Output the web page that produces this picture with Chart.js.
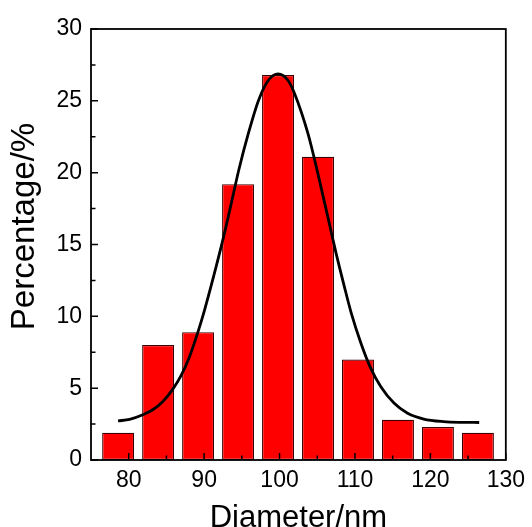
<!DOCTYPE html>
<html>
<head>
<meta charset="utf-8">
<script src="https://cdn.jsdelivr.net/npm/chart.js@4.4.1/dist/chart.umd.min.js"></script>
<style>
html,body{margin:0;padding:0;background:#fff;}
#wrap{width:532px;height:527px;}
</style>
</head>
<body>
<div id="wrap"><canvas id="c" width="532" height="527"></canvas></div>
<script>
// Histogram bins (bar centres, nm) and percentages
const diameters   = [78.6, 83.9, 89.2, 94.5, 99.8, 105.1, 110.4, 115.7, 121.0, 126.3];
const percentages = [1.9, 8.0, 8.9, 19.2, 26.8, 21.1, 7.0, 2.8, 2.3, 1.9];

// Fitted curve
const fitX = [78.59, 80.12, 81.87, 83.19, 84.50, 85.81, 86.92, 88.01, 89.10, 89.98, 91.29, 92.61, 93.70, 94.58, 95.89, 97.21, 98.52, 99.80, 101.15, 102.00, 103.78, 105.09, 106.41, 107.50, 108.60, 109.47, 110.78, 112.10, 113.41, 115.17, 116.92, 119.11, 121.74, 124.37, 126.47];
const fitY = [2.72, 2.83, 3.15, 3.50, 4.06, 4.90, 5.85, 7.12, 8.78, 10.30, 12.85, 15.60, 18.10, 20.15, 22.78, 25.03, 26.43, 26.88, 26.40, 25.50, 22.70, 19.92, 16.90, 14.38, 12.05, 10.30, 8.15, 6.38, 5.12, 3.96, 3.27, 2.85, 2.67, 2.62, 2.61];

// Tick labels / tick positions
const xTickLabels = [80, 90, 100, 110, 120, 130];
const xMinorTicks = [85, 95, 105, 115, 125];
const yTickLabels = [0, 5, 10, 15, 20, 25, 30];
const yMinorTicks = [2.5, 7.5, 12.5, 17.5, 22.5, 27.5];

const FONT = "'Liberation Sans', Arial, Helvetica, sans-serif";

const frameTicks = {
  id: 'frameTicks',
  afterDatasetsDraw(chart) {
    const {ctx, chartArea: a, scales: {x, y}} = chart;
    ctx.save();
    ctx.strokeStyle = '#000';
    ctx.lineWidth = 1.5;
    ctx.beginPath();
    const tick = (len, vals, axis) => {
      vals.forEach(v => {
        if (axis === 'x') {
          const px = x.getPixelForValue(v);
          ctx.moveTo(px, a.bottom); ctx.lineTo(px, a.bottom - len);
        } else {
          const py = y.getPixelForValue(v);
          ctx.moveTo(a.left, py); ctx.lineTo(a.left + len, py);
        }
      });
    };
    tick(7, xTickLabels, 'x');
    tick(4.5, xMinorTicks, 'x');
    tick(7, yTickLabels, 'y');
    tick(4.5, yMinorTicks, 'y');
    ctx.stroke();
    ctx.lineWidth = 1.8;
    ctx.strokeRect(a.left, a.top, a.right - a.left, a.bottom - a.top);
    ctx.restore();
  }
};

new Chart(document.getElementById('c'), {
  type: 'bar',
  data: {
    datasets: [
      {
        type: 'line',
        label: 'Fit',
        data: fitX.map((v, i) => ({x: v, y: fitY[i]})),
        borderColor: '#000',
        borderWidth: 2.8,
        pointRadius: 0,
        fill: false,
        cubicInterpolationMode: 'monotone',
        order: 0
      },
      {
        type: 'bar',
        label: 'Percentage',
        data: diameters.map((v, i) => ({x: v, y: percentages[i]})),
        backgroundColor: '#ff0000',
        borderColor: '#3a0000',
        borderWidth: 1.2,
        borderSkipped: false,
        barPercentage: 0.8,
        categoryPercentage: 1.0,
        order: 1
      }
    ]
  },
  options: {
    responsive: false,
    animation: false,
    layout: {padding: {top: 29, right: 23, left: 0, bottom: 0}},
    plugins: {legend: {display: false}, tooltip: {enabled: false}},
    scales: {
      x: {
        type: 'linear',
        min: 75, max: 130,
        offset: false,
        grid: {display: false, drawTicks: false, offset: false},
        border: {display: false},
        afterBuildTicks: s => { s.ticks = xTickLabels.map(v => ({value: v})); },
        afterFit: s => { s.height = 67; },
        ticks: {color: '#000', padding: 7, maxRotation: 0, font: {family: FONT, size: 23}},
        title: {display: true, text: 'Diameter/nm', color: '#000', font: {family: FONT, size: 31, lineHeight: 1}, padding: {top: 0, bottom: -7}}
      },
      y: {
        type: 'linear',
        min: 0, max: 30,
        grid: {display: false, drawTicks: false},
        border: {display: false},
        afterBuildTicks: s => { s.ticks = yTickLabels.map(v => ({value: v})); },
        afterFit: s => {
          s.width = 91;
          if (!s._titleShifted) {
            const orig = s.drawTitle.bind(s);
            s.drawTitle = function () {
              const c = this.ctx; c.save(); c.translate(0, -18); orig(); c.restore();
            };
            s._titleShifted = true;
          }
        },
        ticks: {color: '#000', padding: 9, font: {family: FONT, size: 23}},
        title: {display: true, text: 'Percentage/%', color: '#000', font: {family: FONT, size: 33, lineHeight: 1.2}, padding: {top: 5, bottom: 0}}
      }
    }
  },
  plugins: [frameTicks]
});
</script>
</body>
</html>
